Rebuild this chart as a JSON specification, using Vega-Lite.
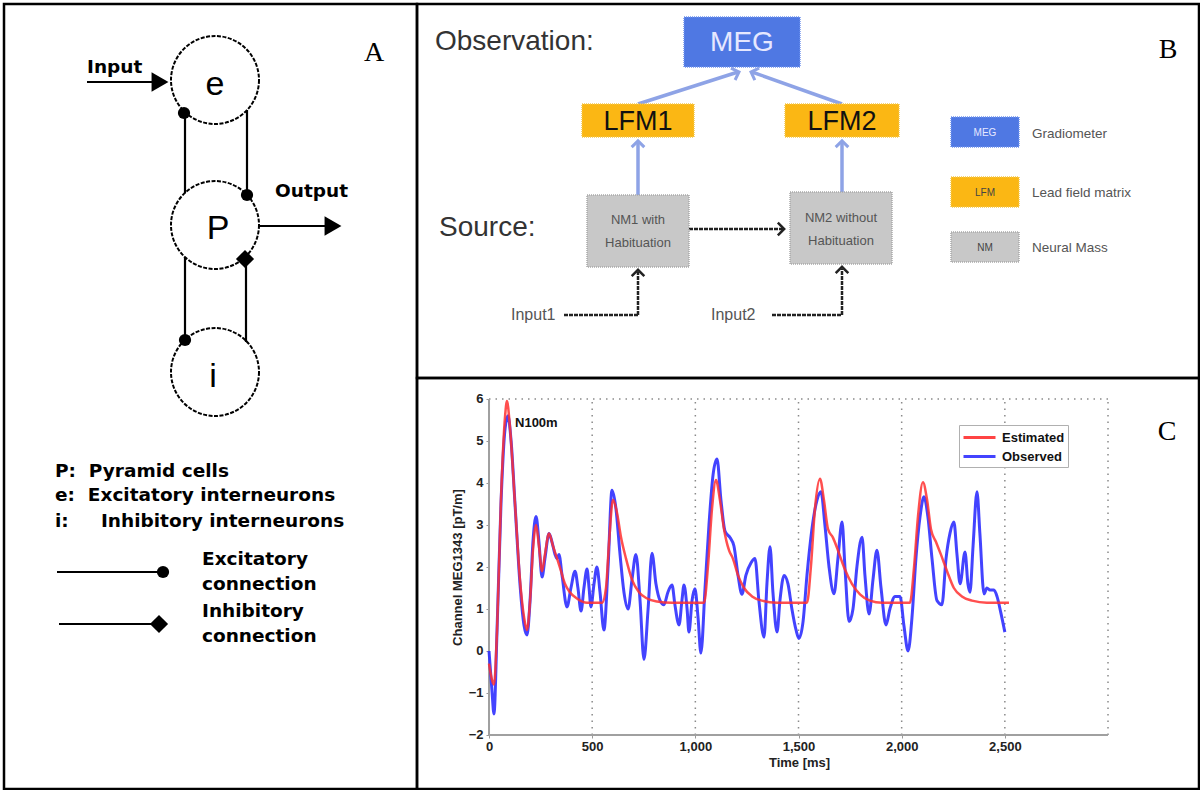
{
"$schema": "https://vega.github.io/schema/vega-lite/v6.json",
"background": "white",
"padding": {"left": 2, "top": 2, "right": 0, "bottom": 0},
"bounds": "flush",
"spacing": 0,
"config": {"view": {"stroke": "black", "strokeWidth": 2.5}},
"datasets": {
 "a_nodes": [{"x":213,"y":78},{"x":213,"y":223},{"x":213,"y":370}],
 "a_lines": [
  {"x":183,"y":110,"x2":183,"y2":191},{"x":183,"y":255,"x2":183,"y2":336},
  {"x":245,"y":108,"x2":245,"y2":191},{"x":244,"y":257,"x2":244,"y2":340},
  {"x":85,"y":80,"x2":156,"y2":80},{"x":257,"y":224,"x2":325,"y2":224},
  {"x":55,"y":570,"x2":158,"y2":570},{"x":57,"y":622,"x2":152,"y2":622}],
 "a_marks": [
  {"m":"dot","x":182,"y":111},{"m":"dot","x":245,"y":193},{"m":"dot","x":183,"y":338},{"m":"dot","x":161,"y":570},
  {"m":"diamond","x":243,"y":257},{"m":"diamond","x":157,"y":622},
  {"m":"arrow","x":158,"y":80},{"m":"arrow","x":331,"y":224}],
 "a_text": [
  {"g":"node","label":"e","x":213,"y":93},{"g":"node","label":"P","x":216,"y":237},{"g":"node","label":"i","x":211,"y":385},
  {"g":"head","label":"Input","x":85,"y":65},{"g":"head","label":"Output","x":273,"y":189},
  {"g":"leg","label":"P:\u00a0\u00a0Pyramid cells","x":53,"y":469},
  {"g":"leg","label":"e:\u00a0\u00a0Excitatory interneurons","x":53,"y":493},
  {"g":"leg","label":"i:\u00a0\u00a0\u00a0\u00a0\u00a0Inhibitory interneurons","x":53,"y":519},
  {"g":"leg","label":"Excitatory","x":200,"y":557},{"g":"leg","label":"connection","x":200,"y":582},
  {"g":"leg","label":"Inhibitory","x":200,"y":609},{"g":"leg","label":"connection","x":200,"y":634},
  {"g":"letter","label":"A","x":372,"y":51}],
 "b_boxes": [
  {"k":"MEG","x":682,"x2":798,"y":15,"y2":65},{"k":"LFM","x":580,"x2":692,"y":102,"y2":135},
  {"k":"LFM","x":783,"x2":897,"y":102,"y2":135},{"k":"NM","x":585,"x2":687,"y":193,"y2":265},
  {"k":"NM","x":788,"x2":890,"y":190,"y2":262},
  {"k":"MEG","x":949,"x2":1017,"y":115,"y2":145},{"k":"LFM","x":949,"x2":1017,"y":175,"y2":205},
  {"k":"NM","x":949,"x2":1017,"y":230,"y2":260}],
 "b_text": [
  {"g":"big","label":"Observation:","x":433,"y":40},{"g":"big","label":"Source:","x":437,"y":226},
  {"g":"meg","label":"MEG","x":740,"y":41},
  {"g":"lfm","label":"LFM1","x":636,"y":120},{"g":"lfm","label":"LFM2","x":840,"y":120},
  {"g":"nm","label":"NM1 with","x":636,"y":218},{"g":"nm","label":"Habituation","x":636,"y":241},
  {"g":"nm","label":"NM2 without","x":839,"y":216},{"g":"nm","label":"Habituation","x":839,"y":239},
  {"g":"inp","label":"Input1","x":509,"y":313},{"g":"inp","label":"Input2","x":709,"y":313},
  {"g":"leg","label":"Gradiometer","x":1030,"y":132},{"g":"leg","label":"Lead field matrix","x":1030,"y":191},
  {"g":"leg","label":"Neural Mass","x":1030,"y":246},
  {"g":"megs","label":"MEG","x":983,"y":131},{"g":"boxs","label":"LFM","x":983,"y":191},{"g":"boxs","label":"NM","x":983,"y":246},
  {"g":"letter","label":"B","x":1166,"y":48}],
 "b_lines": [
  {"k":"proj","x":636,"y":102,"x2":736,"y2":70},{"k":"proj","x":840,"y":102,"x2":750,"y2":70},
  {"k":"proj","x":636,"y":193,"x2":636,"y2":141},{"k":"proj","x":840,"y":190,"x2":840,"y2":141},
  {"k":"flow","x":687,"y":227,"x2":782,"y2":227},
  {"k":"flow","x":562,"y":313,"x2":636,"y2":313},{"k":"flow","x":636,"y":313,"x2":636,"y2":270},
  {"k":"flow","x":770,"y":313,"x2":840,"y2":313},{"k":"flow","x":840,"y":313,"x2":840,"y2":267}],
 "b_heads": [
  {"d":"pup","x":636,"y":142},{"d":"pup","x":840,"y":142},
  {"d":"pr","x":734,"y":71},{"d":"pl","x":752,"y":71},
  {"d":"fr","x":779,"y":227},{"d":"fup","x":636,"y":271},{"d":"fup","x":840,"y":268}],
 "c_grid": [{"t":500},{"t":1000},{"t":1500},{"t":2000},{"t":2500}],
 "meg": [
  {"t":0,"v":0.0,"s":"Observed"},{"t":15,"v":-1.0,"s":"Observed"},{"t":24,"v":-1.5,"s":"Observed"},{"t":39,"v":0.5,"s":"Observed"},
  {"t":58,"v":3.5,"s":"Observed"},{"t":78,"v":5.3,"s":"Observed"},{"t":92,"v":5.6,"s":"Observed"},{"t":107,"v":5.0,"s":"Observed"},
  {"t":126,"v":3.5,"s":"Observed"},{"t":150,"v":1.6,"s":"Observed"},{"t":170,"v":0.6,"s":"Observed"},{"t":184,"v":0.38,"s":"Observed"},
  {"t":199,"v":1.2,"s":"Observed"},{"t":213,"v":2.6,"s":"Observed"},{"t":228,"v":3.2,"s":"Observed"},{"t":242,"v":2.6,"s":"Observed"},
  {"t":257,"v":1.76,"s":"Observed"},{"t":271,"v":2.2,"s":"Observed"},{"t":291,"v":2.8,"s":"Observed"},{"t":305,"v":2.6,"s":"Observed"},
  {"t":320,"v":2.3,"s":"Observed"},{"t":330,"v":2.2,"s":"Observed"},{"t":339,"v":2.3,"s":"Observed"},{"t":354,"v":1.8,"s":"Observed"},
  {"t":378,"v":1.05,"s":"Observed"},{"t":397,"v":1.5,"s":"Observed"},{"t":417,"v":1.9,"s":"Observed"},{"t":431,"v":1.5,"s":"Observed"},
  {"t":446,"v":0.95,"s":"Observed"},{"t":460,"v":1.5,"s":"Observed"},{"t":475,"v":1.95,"s":"Observed"},{"t":485,"v":1.5,"s":"Observed"},
  {"t":494,"v":1.05,"s":"Observed"},{"t":509,"v":1.6,"s":"Observed"},{"t":523,"v":2.0,"s":"Observed"},{"t":538,"v":1.4,"s":"Observed"},
  {"t":557,"v":0.5,"s":"Observed"},{"t":577,"v":2.0,"s":"Observed"},{"t":596,"v":3.83,"s":"Observed"},{"t":615,"v":3.4,"s":"Observed"},
  {"t":635,"v":2.3,"s":"Observed"},{"t":654,"v":1.4,"s":"Observed"},{"t":674,"v":1.0,"s":"Observed"},{"t":693,"v":1.7,"s":"Observed"},
  {"t":712,"v":2.3,"s":"Observed"},{"t":732,"v":1.2,"s":"Observed"},{"t":751,"v":-0.2,"s":"Observed"},{"t":771,"v":1.0,"s":"Observed"},
  {"t":790,"v":2.33,"s":"Observed"},{"t":809,"v":1.6,"s":"Observed"},{"t":829,"v":1.2,"s":"Observed"},{"t":848,"v":1.1,"s":"Observed"},
  {"t":867,"v":1.4,"s":"Observed"},{"t":887,"v":1.57,"s":"Observed"},{"t":901,"v":1.1,"s":"Observed"},{"t":921,"v":0.62,"s":"Observed"},
  {"t":935,"v":1.2,"s":"Observed"},{"t":945,"v":1.57,"s":"Observed"},{"t":960,"v":1.0,"s":"Observed"},{"t":969,"v":0.45,"s":"Observed"},
  {"t":984,"v":1.2,"s":"Observed"},{"t":998,"v":1.48,"s":"Observed"},{"t":1013,"v":0.8,"s":"Observed"},{"t":1027,"v":-0.05,"s":"Observed"},
  {"t":1047,"v":1.5,"s":"Observed"},{"t":1066,"v":3.0,"s":"Observed"},{"t":1086,"v":4.2,"s":"Observed"},{"t":1105,"v":4.57,"s":"Observed"},
  {"t":1124,"v":3.6,"s":"Observed"},{"t":1144,"v":2.85,"s":"Observed"},{"t":1168,"v":2.7,"s":"Observed"},{"t":1187,"v":2.5,"s":"Observed"},
  {"t":1207,"v":1.8,"s":"Observed"},{"t":1226,"v":1.35,"s":"Observed"},{"t":1245,"v":1.8,"s":"Observed"},{"t":1270,"v":2.1,"s":"Observed"},
  {"t":1289,"v":2.2,"s":"Observed"},{"t":1308,"v":1.2,"s":"Observed"},{"t":1333,"v":0.33,"s":"Observed"},{"t":1347,"v":1.6,"s":"Observed"},
  {"t":1362,"v":2.48,"s":"Observed"},{"t":1376,"v":1.4,"s":"Observed"},{"t":1396,"v":0.45,"s":"Observed"},{"t":1410,"v":1.2,"s":"Observed"},
  {"t":1430,"v":1.8,"s":"Observed"},{"t":1449,"v":1.6,"s":"Observed"},{"t":1468,"v":1.0,"s":"Observed"},{"t":1488,"v":0.5,"s":"Observed"},
  {"t":1502,"v":0.3,"s":"Observed"},{"t":1522,"v":0.7,"s":"Observed"},{"t":1541,"v":1.8,"s":"Observed"},{"t":1565,"v":2.9,"s":"Observed"},
  {"t":1590,"v":3.6,"s":"Observed"},{"t":1609,"v":3.79,"s":"Observed"},{"t":1628,"v":3.0,"s":"Observed"},{"t":1648,"v":2.0,"s":"Observed"},
  {"t":1672,"v":1.36,"s":"Observed"},{"t":1691,"v":2.2,"s":"Observed"},{"t":1711,"v":3.07,"s":"Observed"},{"t":1725,"v":2.0,"s":"Observed"},
  {"t":1745,"v":0.7,"s":"Observed"},{"t":1764,"v":1.0,"s":"Observed"},{"t":1783,"v":2.0,"s":"Observed"},{"t":1808,"v":2.71,"s":"Observed"},
  {"t":1822,"v":1.8,"s":"Observed"},{"t":1842,"v":0.88,"s":"Observed"},{"t":1861,"v":1.7,"s":"Observed"},{"t":1880,"v":2.4,"s":"Observed"},
  {"t":1900,"v":1.5,"s":"Observed"},{"t":1924,"v":0.62,"s":"Observed"},{"t":1943,"v":1.0,"s":"Observed"},{"t":1968,"v":1.3,"s":"Observed"},
  {"t":1992,"v":1.3,"s":"Observed"},{"t":2011,"v":0.6,"s":"Observed"},{"t":2031,"v":0.0,"s":"Observed"},{"t":2050,"v":0.8,"s":"Observed"},
  {"t":2069,"v":2.2,"s":"Observed"},{"t":2089,"v":3.2,"s":"Observed"},{"t":2108,"v":3.67,"s":"Observed"},{"t":2127,"v":3.2,"s":"Observed"},
  {"t":2147,"v":2.2,"s":"Observed"},{"t":2171,"v":1.2,"s":"Observed"},{"t":2195,"v":1.1,"s":"Observed"},{"t":2215,"v":2.2,"s":"Observed"},
  {"t":2234,"v":2.8,"s":"Observed"},{"t":2253,"v":3.07,"s":"Observed"},{"t":2268,"v":2.3,"s":"Observed"},{"t":2283,"v":1.6,"s":"Observed"},
  {"t":2307,"v":2.36,"s":"Observed"},{"t":2321,"v":1.6,"s":"Observed"},{"t":2331,"v":1.4,"s":"Observed"},{"t":2346,"v":2.5,"s":"Observed"},
  {"t":2365,"v":3.79,"s":"Observed"},{"t":2379,"v":2.8,"s":"Observed"},{"t":2399,"v":1.36,"s":"Observed"},{"t":2413,"v":1.5,"s":"Observed"},
  {"t":2428,"v":1.45,"s":"Observed"},{"t":2447,"v":1.45,"s":"Observed"},{"t":2462,"v":1.3,"s":"Observed"},{"t":2481,"v":0.9,"s":"Observed"},
  {"t":2500,"v":0.45,"s":"Observed"},
  {"t":0,"v":-0.3,"s":"Estimated"},{"t":15,"v":-0.7,"s":"Estimated"},{"t":24,"v":-0.8,"s":"Estimated"},{"t":39,"v":0.5,"s":"Estimated"},
  {"t":58,"v":3.6,"s":"Estimated"},{"t":78,"v":5.6,"s":"Estimated"},{"t":87,"v":5.95,"s":"Estimated"},{"t":102,"v":5.3,"s":"Estimated"},
  {"t":126,"v":3.5,"s":"Estimated"},{"t":150,"v":1.7,"s":"Estimated"},{"t":170,"v":0.8,"s":"Estimated"},{"t":184,"v":0.5,"s":"Estimated"},
  {"t":199,"v":1.2,"s":"Estimated"},{"t":213,"v":2.4,"s":"Estimated"},{"t":228,"v":3.0,"s":"Estimated"},{"t":242,"v":2.5,"s":"Estimated"},
  {"t":257,"v":1.9,"s":"Estimated"},{"t":271,"v":2.3,"s":"Estimated"},{"t":291,"v":2.8,"s":"Estimated"},{"t":310,"v":2.5,"s":"Estimated"},
  {"t":330,"v":2.2,"s":"Estimated"},{"t":349,"v":1.9,"s":"Estimated"},{"t":368,"v":1.6,"s":"Estimated"},{"t":392,"v":1.4,"s":"Estimated"},
  {"t":426,"v":1.25,"s":"Estimated"},{"t":475,"v":1.15,"s":"Estimated"},{"t":548,"v":1.15,"s":"Estimated"},{"t":567,"v":1.5,"s":"Estimated"},
  {"t":582,"v":2.6,"s":"Estimated"},{"t":601,"v":3.6,"s":"Estimated"},{"t":620,"v":3.3,"s":"Estimated"},{"t":640,"v":2.7,"s":"Estimated"},
  {"t":664,"v":2.2,"s":"Estimated"},{"t":693,"v":1.7,"s":"Estimated"},{"t":727,"v":1.4,"s":"Estimated"},{"t":766,"v":1.25,"s":"Estimated"},
  {"t":814,"v":1.18,"s":"Estimated"},{"t":887,"v":1.15,"s":"Estimated"},{"t":1042,"v":1.15,"s":"Estimated"},{"t":1061,"v":2.0,"s":"Estimated"},
  {"t":1081,"v":3.4,"s":"Estimated"},{"t":1100,"v":4.07,"s":"Estimated"},{"t":1119,"v":3.6,"s":"Estimated"},{"t":1139,"v":2.9,"s":"Estimated"},
  {"t":1163,"v":2.4,"s":"Estimated"},{"t":1182,"v":2.2,"s":"Estimated"},{"t":1207,"v":1.8,"s":"Estimated"},{"t":1236,"v":1.5,"s":"Estimated"},
  {"t":1275,"v":1.3,"s":"Estimated"},{"t":1323,"v":1.2,"s":"Estimated"},{"t":1396,"v":1.15,"s":"Estimated"},{"t":1541,"v":1.15,"s":"Estimated"},
  {"t":1560,"v":2.0,"s":"Estimated"},{"t":1580,"v":3.4,"s":"Estimated"},{"t":1604,"v":4.1,"s":"Estimated"},{"t":1623,"v":3.6,"s":"Estimated"},
  {"t":1643,"v":2.9,"s":"Estimated"},{"t":1667,"v":2.7,"s":"Estimated"},{"t":1691,"v":2.4,"s":"Estimated"},{"t":1720,"v":2.0,"s":"Estimated"},
  {"t":1759,"v":1.6,"s":"Estimated"},{"t":1798,"v":1.35,"s":"Estimated"},{"t":1846,"v":1.2,"s":"Estimated"},{"t":1905,"v":1.15,"s":"Estimated"},
  {"t":2040,"v":1.15,"s":"Estimated"},{"t":2060,"v":2.0,"s":"Estimated"},{"t":2079,"v":3.2,"s":"Estimated"},{"t":2103,"v":4.02,"s":"Estimated"},
  {"t":2123,"v":3.6,"s":"Estimated"},{"t":2142,"v":2.9,"s":"Estimated"},{"t":2166,"v":2.6,"s":"Estimated"},{"t":2190,"v":2.3,"s":"Estimated"},
  {"t":2220,"v":1.9,"s":"Estimated"},{"t":2253,"v":1.5,"s":"Estimated"},{"t":2292,"v":1.3,"s":"Estimated"},{"t":2341,"v":1.2,"s":"Estimated"},
  {"t":2413,"v":1.15,"s":"Estimated"},{"t":2520,"v":1.15,"s":"Estimated"}]
},
"hconcat": [
 {
  "width": 413, "height": 785,
  "encoding": {
   "x": {"field": "x", "type": "quantitative", "scale": {"domain": [2, 415], "nice": false, "zero": false}, "axis": null},
   "y": {"field": "y", "type": "quantitative", "scale": {"domain": [2, 787], "nice": false, "zero": false, "reverse": true}, "axis": null}
  },
  "layer": [
   {"data": {"name": "a_lines"}, "mark": {"type": "rule", "stroke": "black", "strokeWidth": 2.2},
    "encoding": {"x2": {"field": "x2"}, "y2": {"field": "y2"}}},
   {"data": {"name": "a_nodes"}, "mark": {"type": "point", "shape": "circle", "size": 7744, "filled": false, "stroke": "black", "strokeWidth": 2, "strokeDash": [4, 1.5], "opacity": 1}},
   {"data": {"name": "a_marks"}, "transform": [{"filter": "datum.m === 'dot'"}], "mark": {"type": "point", "shape": "circle", "size": 150, "filled": true, "color": "black", "opacity": 1}},
   {"data": {"name": "a_marks"}, "transform": [{"filter": "datum.m === 'diamond'"}], "mark": {"type": "point", "shape": "diamond", "size": 330, "filled": true, "color": "black", "opacity": 1}},
   {"data": {"name": "a_marks"}, "transform": [{"filter": "datum.m === 'arrow'"}], "mark": {"type": "point", "shape": "triangle-right", "size": 380, "filled": true, "color": "black", "opacity": 1}},
   {"data": {"name": "a_text"}, "transform": [{"filter": "datum.g === 'node'"}], "mark": {"type": "text", "font": "Liberation Sans", "fontSize": 34, "align": "center", "baseline": "alphabetic", "color": "black"}, "encoding": {"text": {"field": "label"}}},
   {"data": {"name": "a_text"}, "transform": [{"filter": "datum.g === 'head'"}], "mark": {"type": "text", "font": "DejaVu Sans", "fontWeight": "bold", "fontSize": 18.5, "align": "left", "baseline": "middle", "color": "black"}, "encoding": {"text": {"field": "label"}}},
   {"data": {"name": "a_text"}, "transform": [{"filter": "datum.g === 'leg'"}], "mark": {"type": "text", "font": "DejaVu Sans", "fontWeight": "bold", "fontSize": 18.5, "align": "left", "baseline": "middle", "color": "black"}, "encoding": {"text": {"field": "label"}}},
   {"data": {"name": "a_text"}, "transform": [{"filter": "datum.g === 'letter'"}], "mark": {"type": "text", "font": "Liberation Serif", "fontSize": 28, "align": "center", "baseline": "middle", "color": "black"}, "encoding": {"text": {"field": "label"}}}
  ]
 },
 {
  "spacing": 0,
  "bounds": "flush",
  "vconcat": [
   {
    "width": 782, "height": 374,
    "encoding": {
     "x": {"field": "x", "type": "quantitative", "scale": {"domain": [415, 1197], "nice": false, "zero": false}, "axis": null},
     "y": {"field": "y", "type": "quantitative", "scale": {"domain": [2, 376], "nice": false, "zero": false, "reverse": true}, "axis": null}
    },
    "layer": [
     {"data": {"name": "b_lines"}, "transform": [{"filter": "datum.k === 'proj'"}], "mark": {"type": "rule", "stroke": "#8ea3e6", "strokeWidth": 3.5},
      "encoding": {"x2": {"field": "x2"}, "y2": {"field": "y2"}}},
     {"data": {"name": "b_lines"}, "transform": [{"filter": "datum.k === 'flow'"}], "mark": {"type": "rule", "stroke": "#222222", "strokeWidth": 2.5, "strokeDash": [4, 1]},
      "encoding": {"x2": {"field": "x2"}, "y2": {"field": "y2"}}},
     {"data": {"name": "b_boxes"}, "transform": [{"filter": "datum.k === 'MEG'"}], "mark": {"type": "rect", "fill": "#4f78e3", "stroke": "#6f93ee", "strokeWidth": 1.5, "strokeDash": [1, 1]},
      "encoding": {"x2": {"field": "x2"}, "y2": {"field": "y2"}}},
     {"data": {"name": "b_boxes"}, "transform": [{"filter": "datum.k === 'LFM'"}], "mark": {"type": "rect", "fill": "#fbb714", "stroke": "#f5c84a", "strokeWidth": 1.5, "strokeDash": [1, 1]},
      "encoding": {"x2": {"field": "x2"}, "y2": {"field": "y2"}}},
     {"data": {"name": "b_boxes"}, "transform": [{"filter": "datum.k === 'NM'"}], "mark": {"type": "rect", "fill": "#c8c8c8", "stroke": "#a8a8a8", "strokeWidth": 1.5, "strokeDash": [1, 1]},
      "encoding": {"x2": {"field": "x2"}, "y2": {"field": "y2"}}},
     {"data": {"name": "b_heads"}, "transform": [{"filter": "datum.d === 'pup'"}], "mark": {"type": "point", "shape": "M -1 0.5 L 0 -0.5 L 1 0.5", "size": 160, "filled": false, "stroke": "#8ea3e6", "strokeWidth": 3, "opacity": 1}},
     {"data": {"name": "b_heads"}, "transform": [{"filter": "datum.d === 'pr'"}], "mark": {"type": "point", "shape": "M -1 0.5 L 0 -0.5 L 1 0.5", "size": 160, "angle": 71, "filled": false, "stroke": "#8ea3e6", "strokeWidth": 3, "opacity": 1}},
     {"data": {"name": "b_heads"}, "transform": [{"filter": "datum.d === 'pl'"}], "mark": {"type": "point", "shape": "M -1 0.5 L 0 -0.5 L 1 0.5", "size": 160, "angle": -70, "filled": false, "stroke": "#8ea3e6", "strokeWidth": 3, "opacity": 1}},
     {"data": {"name": "b_heads"}, "transform": [{"filter": "datum.d === 'fr'"}], "mark": {"type": "point", "shape": "M -0.5 -1 L 0.5 0 L -0.5 1", "size": 160, "filled": false, "stroke": "#222222", "strokeWidth": 2.5, "opacity": 1}},
     {"data": {"name": "b_heads"}, "transform": [{"filter": "datum.d === 'fup'"}], "mark": {"type": "point", "shape": "M -1 0.5 L 0 -0.5 L 1 0.5", "size": 160, "filled": false, "stroke": "#222222", "strokeWidth": 2.5, "opacity": 1}},
     {"data": {"name": "b_text"}, "transform": [{"filter": "datum.g === 'big'"}], "mark": {"type": "text", "font": "Liberation Sans", "fontSize": 28, "align": "left", "baseline": "middle", "color": "#333333"}, "encoding": {"text": {"field": "label"}}},
     {"data": {"name": "b_text"}, "transform": [{"filter": "datum.g === 'meg'"}], "mark": {"type": "text", "font": "Liberation Sans", "fontSize": 28, "align": "center", "baseline": "middle", "color": "#e6e8ff"}, "encoding": {"text": {"field": "label"}}},
     {"data": {"name": "b_text"}, "transform": [{"filter": "datum.g === 'lfm'"}], "mark": {"type": "text", "font": "Liberation Sans", "fontSize": 27, "align": "center", "baseline": "middle", "color": "#111111"}, "encoding": {"text": {"field": "label"}}},
     {"data": {"name": "b_text"}, "transform": [{"filter": "datum.g === 'nm'"}], "mark": {"type": "text", "font": "Liberation Sans", "fontSize": 13, "align": "center", "baseline": "middle", "color": "#555555"}, "encoding": {"text": {"field": "label"}}},
     {"data": {"name": "b_text"}, "transform": [{"filter": "datum.g === 'inp'"}], "mark": {"type": "text", "font": "Liberation Sans", "fontSize": 16, "align": "left", "baseline": "middle", "color": "#555555"}, "encoding": {"text": {"field": "label"}}},
     {"data": {"name": "b_text"}, "transform": [{"filter": "datum.g === 'leg'"}], "mark": {"type": "text", "font": "Liberation Sans", "fontSize": 13.5, "align": "left", "baseline": "middle", "color": "#555555"}, "encoding": {"text": {"field": "label"}}},
     {"data": {"name": "b_text"}, "transform": [{"filter": "datum.g === 'megs'"}], "mark": {"type": "text", "font": "Liberation Sans", "fontSize": 10, "align": "center", "baseline": "middle", "color": "#e6e8ff"}, "encoding": {"text": {"field": "label"}}},
     {"data": {"name": "b_text"}, "transform": [{"filter": "datum.g === 'boxs'"}], "mark": {"type": "text", "font": "Liberation Sans", "fontSize": 10, "align": "center", "baseline": "middle", "color": "#444444"}, "encoding": {"text": {"field": "label"}}},
     {"data": {"name": "b_text"}, "transform": [{"filter": "datum.g === 'letter'"}], "mark": {"type": "text", "font": "Liberation Serif", "fontSize": 28, "align": "center", "baseline": "middle", "color": "black"}, "encoding": {"text": {"field": "label"}}}
    ]
   },
   {
    "width": 782, "height": 411,
    "layer": [
     {"data": {"name": "c_grid"}, "mark": {"type": "rule", "stroke": "#8a8a8a", "strokeWidth": 1.5, "strokeDash": [1.5, 5]},
      "encoding": {
       "x": {"field": "t", "type": "quantitative", "scale": {"domain": [-349, 3441], "nice": false, "zero": false}},
       "y": {"datum": -2, "type": "quantitative", "scale": {"domain": [-3.286, 6.5], "nice": false, "zero": false}},
       "y2": {"datum": 6}}},
     {"data": {"values": [{}]}, "mark": {"type": "rule", "stroke": "#8a8a8a", "strokeWidth": 1.5, "strokeDash": [1.5, 5]},
      "encoding": {
       "x": {"datum": 0, "type": "quantitative", "scale": {"domain": [-349, 3441], "nice": false, "zero": false}},
       "x2": {"datum": 3000},
       "y": {"datum": 6, "type": "quantitative", "scale": {"domain": [-3.286, 6.5], "nice": false, "zero": false}}}},
     {"data": {"values": [{}]}, "mark": {"type": "rule", "stroke": "#8a8a8a", "strokeWidth": 1.5, "strokeDash": [1.5, 5]},
      "encoding": {
       "x": {"datum": 3000, "type": "quantitative", "scale": {"domain": [-349, 3441], "nice": false, "zero": false}},
       "y": {"datum": -2, "type": "quantitative", "scale": {"domain": [-3.286, 6.5], "nice": false, "zero": false}},
       "y2": {"datum": 6}}},
     {"data": {"values": [{}]}, "mark": {"type": "rule", "stroke": "#a0a0a0", "strokeWidth": 2},
      "encoding": {
       "x": {"datum": 0, "type": "quantitative", "scale": {"domain": [-349, 3441], "nice": false, "zero": false}},
       "x2": {"datum": 3000},
       "y": {"datum": -2, "type": "quantitative", "scale": {"domain": [-3.286, 6.5], "nice": false, "zero": false}}}},
     {"data": {"values": [{}]}, "mark": {"type": "rule", "stroke": "#a0a0a0", "strokeWidth": 2},
      "encoding": {
       "x": {"datum": 0, "type": "quantitative", "scale": {"domain": [-349, 3441], "nice": false, "zero": false}},
       "y": {"datum": -2, "type": "quantitative", "scale": {"domain": [-3.286, 6.5], "nice": false, "zero": false}},
       "y2": {"datum": 6}}},
     {"data": {"name": "meg"}, "transform": [{"filter": "datum.s === 'Observed'"}],
      "mark": {"type": "line", "interpolate": "monotone", "strokeWidth": 3, "opacity": 0.9},
      "encoding": {
       "x": {"field": "t", "type": "quantitative",
        "scale": {"domain": [-349, 3441], "nice": false, "zero": false},
        "axis": {"values": [0, 500, 1000, 1500, 2000, 2500], "format": ",.0f", "offset": -54, "domain": false, "grid": false,
         "ticks": true, "tickSize": 3, "tickColor": "#999999", "labelPadding": 2, "labelFlush": false, "labelOverlap": false,
         "labelFont": "Liberation Sans", "labelFontWeight": "bold", "labelFontSize": 13, "labelColor": "#222222",
         "title": "Time [ms]", "titleFont": "Liberation Sans", "titleFontWeight": "bold", "titleFontSize": 13, "titleColor": "#222222",
         "titleX": 382, "titleY": 27, "titleBaseline": "middle", "titleAnchor": "middle", "titleAlign": "center"}},
       "y": {"field": "v", "type": "quantitative",
        "scale": {"domain": [-3.286, 6.5], "nice": false, "zero": false},
        "axis": {"values": [-2, -1, 0, 1, 2, 3, 4, 5, 6], "offset": -72, "domain": false, "grid": false,
         "ticks": true, "tickSize": 3, "tickColor": "#999999", "labelPadding": 3, "labelFlush": false, "labelOverlap": false,
         "labelFont": "Liberation Sans", "labelFontWeight": "bold", "labelFontSize": 13, "labelColor": "#222222",
         "title": "Channel MEG1343 [pT/m]", "titleFont": "Liberation Sans", "titleFontWeight": "bold", "titleFontSize": 13, "titleColor": "#222222",
         "titleX": -32, "titleY": 189, "titleAngle": -90, "titleBaseline": "middle", "titleAlign": "center"}},
       "color": {"field": "s", "type": "nominal",
        "scale": {"domain": ["Estimated", "Observed"], "range": ["#ff3030", "#2f2fff"]},
        "legend": {"title": null, "orient": "none", "legendX": 955, "legendY": 421, "symbolType": "M -1 0 L 3 0", "symbolStrokeWidth": 3, "symbolSize": 256,
         "labelFont": "Liberation Sans", "labelFontWeight": "bold", "labelFontSize": 13, "labelColor": "#111111", "padding": 3,
         "strokeColor": "#b0b0b0", "fillColor": "white", "rowPadding": 2, "labelOffset": 21}}}},
     {"data": {"name": "meg"}, "transform": [{"filter": "datum.s === 'Estimated'"}],
      "mark": {"type": "line", "interpolate": "monotone", "strokeWidth": 2.5, "opacity": 0.85},
      "encoding": {
       "x": {"field": "t", "type": "quantitative", "scale": {"domain": [-349, 3441], "nice": false, "zero": false}},
       "y": {"field": "v", "type": "quantitative", "scale": {"domain": [-3.286, 6.5], "nice": false, "zero": false}},
       "color": {"field": "s", "type": "nominal"}}},
     {"data": {"values": [{}]}, "mark": {"type": "text", "text": "N100m", "font": "Liberation Sans", "fontWeight": "bold", "fontSize": 13, "align": "left", "baseline": "middle", "color": "#111111"},
      "encoding": {
       "x": {"datum": 126, "type": "quantitative", "scale": {"domain": [-349, 3441], "nice": false, "zero": false}},
       "y": {"datum": 5.43, "type": "quantitative", "scale": {"domain": [-3.286, 6.5], "nice": false, "zero": false}}}},
     {"data": {"values": [{}]}, "mark": {"type": "text", "text": "C", "font": "Liberation Serif", "fontSize": 28, "align": "center", "baseline": "middle", "color": "black"},
      "encoding": {
       "x": {"datum": 3286, "type": "quantitative", "scale": {"domain": [-349, 3441], "nice": false, "zero": false}},
       "y": {"datum": 5.214, "type": "quantitative", "scale": {"domain": [-3.286, 6.5], "nice": false, "zero": false}}}}
    ]
   }
  ]
 }
]
}
